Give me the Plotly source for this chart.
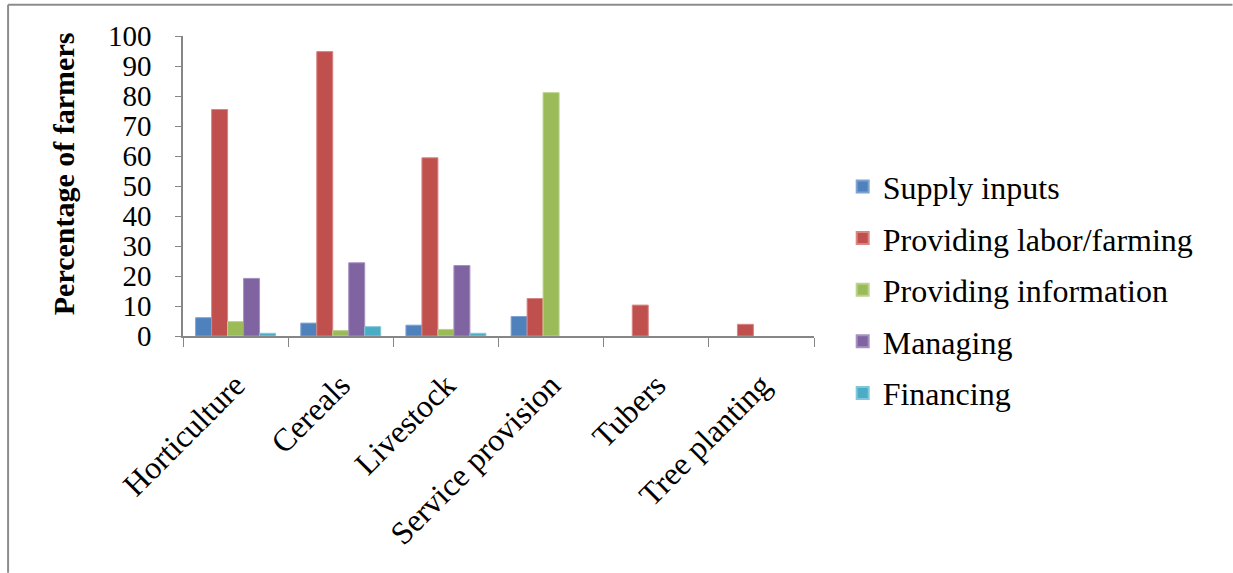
import plotly.graph_objects as go

categories = ["Horticulture", "Cereals", "Livestock", "Service provision", "Tubers", "Tree planting"]

supply_inputs = [6.1, 4.3, 3.6, 6.5, 0, 0]
providing_labor = [75.5, 94.8, 59.4, 12.5, 10.3, 3.9]
providing_information = [4.8, 1.8, 2.2, 81.1, 0, 0]
managing = [19.2, 24.4, 23.5, 0, 0, 0]
financing = [0.9, 3.1, 0.9, 0, 0, 0]

series = [
    ("Supply inputs", supply_inputs, "#4F81BD", "#7FA3D1"),
    ("Providing labor/farming", providing_labor, "#C0504D", "#D98582"),
    ("Providing information", providing_information, "#9BBB59", "#BBD28C"),
    ("Managing", managing, "#8064A2", "#A590BF"),
    ("Financing", financing, "#4BACC6", "#82C6D9"),
]

y_ticks = list(range(0, 101, 10))

FONT = "Liberation Serif"

# plot area in pixels
L, R, T, B = 183, 814.3, 35.7, 336.0
W, H = 1233, 573


def px_x(px):
    return (px - L) / (R - L)


def px_y(py):
    return (B - py) / (B - T)


fig = go.Figure()
for name, vals, color, edge in series:
    fig.add_trace(go.Bar(
        x=categories, y=vals, name=name, legendgroup=name,
        marker=dict(color=color,
                    line=dict(color=edge, width=[1 if v > 0 else 0 for v in vals])),
    ))

fig.update_layout(
    width=W, height=H,
    margin=dict(l=L, r=W - R, t=T, b=H - B, autoexpand=False),
    paper_bgcolor="white", plot_bgcolor="white",
    barmode="group", bargap=0.24, bargroupgap=0,
    font=dict(family=FONT, color="black"),
    showlegend=True,
    legend=dict(
        x=px_x(843), y=px_y(159), xanchor="left", yanchor="top",
        font=dict(family=FONT, size=32, color="black"),
        tracegroupgap=7, itemsizing="constant",
        bgcolor="rgba(0,0,0,0)",
    ),
    xaxis=dict(
        type="category", tickangle=-45, tickson="boundaries",
        ticks="outside", ticklen=9, tickcolor="#868686", tickwidth=1,
        showline=True, linecolor="#868686", linewidth=1.5,
        showgrid=False, zeroline=False, ticklabelstandoff=16,
        tickfont=dict(family=FONT, size=32, color="black"),
    ),
    yaxis=dict(
        range=[0, 100], tickvals=y_ticks, ticktext=[str(v) for v in y_ticks],
        ticks="outside", ticklen=6, tickcolor="#868686", tickwidth=1,
        showline=True, linecolor="#868686", linewidth=1.5,
        showgrid=False, zeroline=False, ticklabelstandoff=18,
        tickfont=dict(family=FONT, size=29, color="black"),
    ),
    annotations=[dict(
        text="<b>Percentage of farmers</b>", textangle=-90,
        x=px_x(63), y=px_y(174), xref="paper", yref="paper",
        xanchor="center", yanchor="middle", showarrow=False,
        font=dict(family=FONT, size=30, color="black"),
    )],
    shapes=[
        dict(type="line", xref="paper", yref="paper",
             x0=px_x(8), x1=px_x(W), y0=px_y(4.5), y1=px_y(4.5),
             line=dict(color="#8C8C8C", width=2)),
        dict(type="line", xref="paper", yref="paper",
             x0=px_x(8), x1=px_x(8), y0=px_y(4.5), y1=px_y(H),
             line=dict(color="#8C8C8C", width=2)),
    ],
)

fig.write_html("out.html")
